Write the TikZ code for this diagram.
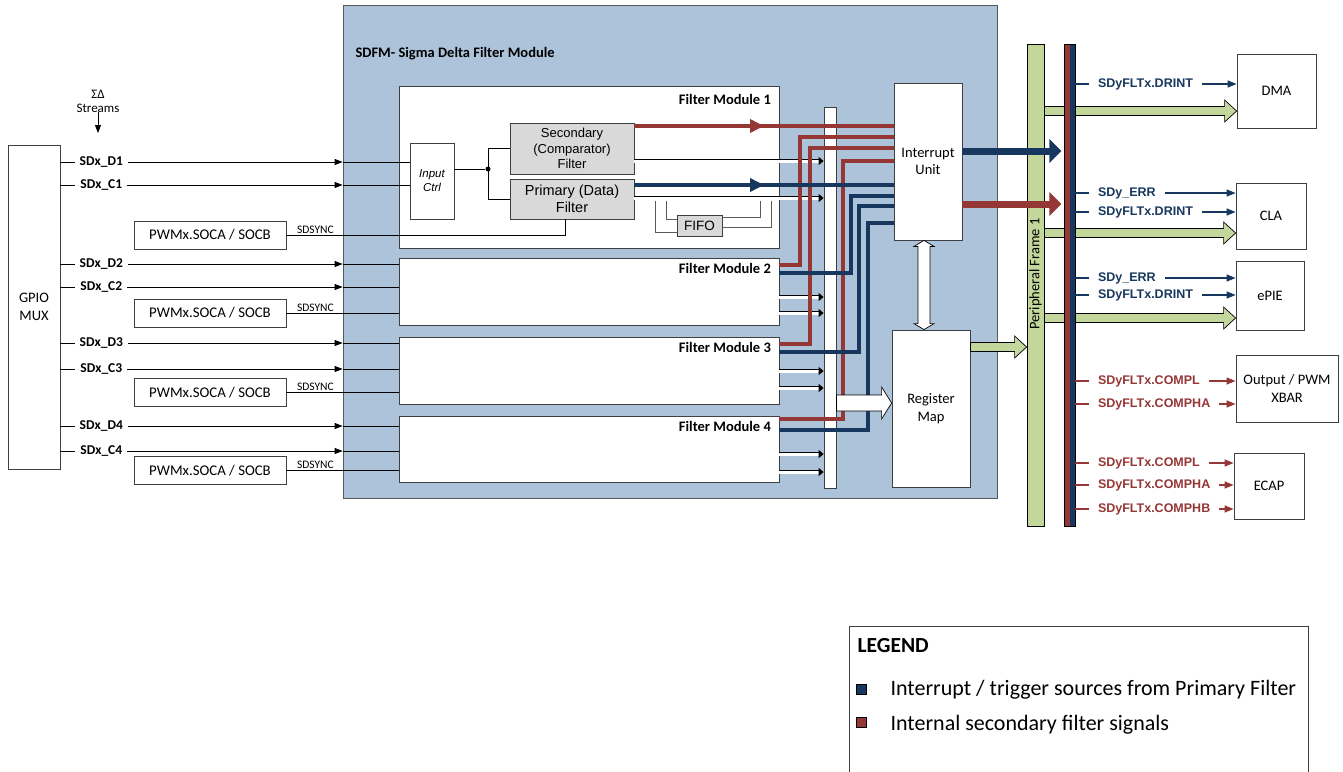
\documentclass[tikz,border=0pt]{standalone}
\usepackage{fontspec}
\setmainfont{Carlito}
\newfontfamily\arialf{Liberation Sans}
\usetikzlibrary{arrows.meta,calc,decorations.markings}
\definecolor{sdbg}{HTML}{ADC3DA}
\definecolor{sdgreen}{HTML}{C3D69B}
\definecolor{sdred}{HTML}{953735}
\definecolor{sdblue}{HTML}{17375E}
\definecolor{sdgray}{HTML}{D9D9D9}
\definecolor{sdedge}{HTML}{3F3F3F}
\definecolor{sdwire}{HTML}{595959}
\newcommand\fatarrow[6][]{%
  \draw[#1] let \p1=(#2), \p2=(#3) in
    (\x1,\y1+#4) -- (\x2-#6,\y2+#4) -- (\x2-#6,\y2+#5) -- (\x2,\y2)
    -- (\x2-#6,\y2-#5) -- (\x2-#6,\y2-#4) -- (\x1,\y1-#4) -- cycle;}

\begin{document}
\begin{tikzpicture}[x=1pt,y=-1pt,font=\fontsize{14.5}{17.5}\selectfont,
  blk/.style={draw=sdedge,fill=white,align=center,inner sep=0pt,line width=0.8pt},
  gblk/.style={blk,fill=sdgray,font=\arialf\fontsize{13}{15.5}\selectfont},
  fmod/.style={blk,minimum width=380pt},
  pwmbox/.style={blk,minimum width=152pt,minimum height=28pt,font=\fontsize{14.8}{16}\selectfont},
  fmlbl/.style={anchor=base east,font=\bfseries\fontsize{14.5}{17}\selectfont},
  inlbl/.style={fill=white,inner xsep=5pt,inner ysep=1pt,font=\bfseries\fontsize{13.5}{16}\selectfont},
  syncl/.style={above,inner sep=1.5pt,font=\fontsize{11.5}{13}\selectfont},
  outlbl/.style={pos=0,anchor=west,xshift=13pt,fill=white,inner xsep=9pt,inner ysep=1pt,font=\arialf\bfseries\fontsize{12.5}{14}\selectfont},
  sig/.style={draw=black,line width=0.9pt},
  sigarr/.style={sig,-{Triangle[length=8pt,width=6pt]}},
  wire/.style={draw=sdwire,line width=0.8pt},
  wharr/.style={draw=black,line width=0.9pt,double=white,double distance=3pt,-{Triangle[length=5pt,width=8pt]}},
  redw/.style={color=sdred,line width=3.5pt},
  bluew/.style={color=sdblue,line width=3.5pt},
  midarr/.style={postaction={decorate,decoration={markings,mark=at position 0.5 with {\arrow{Triangle[length=14pt,width=13pt]}}}}},
  bigarr/.style={line width=7pt,-{Triangle[length=12pt,width=23pt]}},
  bsig/.style={color=sdblue,line width=1.2pt,-{Triangle[length=9pt,width=7pt]}},
  rsig/.style={color=sdred,line width=1.2pt,-{Triangle[length=9pt,width=7pt]}},
  hollow/.style={draw=black,line width=0.7pt}]
\path[use as bounding box,clip] (0,0) rectangle (1343,771);
% SDFM block
\node[draw=sdwire,fill=sdbg,line width=0.8pt,minimum width=654pt,minimum height=493pt] (sdfm) at (670,251.5) {};
\node[anchor=base west,font=\bfseries\fontsize{14.5}{17}\selectfont] (sdtitle) at (352,57) {SDFM- Sigma Delta Filter Module};
\node[fmod,minimum height=162pt] (fm1) at (589,167) {};
\node[fmod,minimum height=67pt] (fm2) at (589,291.5) {};
\node[fmod,minimum height=67pt] (fm3) at (589,370.5) {};
\node[fmod,minimum height=66pt] (fm4) at (589,449) {};
\foreach \i/\dy in {1/19,2/16,3/16,4/16}
  \node[fmlbl] (fmt\i) at ($(fm\i.north east)+(-5,\dy)$) {Filter Module \i};
% filter module 1 internals
\node[blk,minimum width=44pt,minimum height=76pt,font=\arialf\itshape\fontsize{11.5}{14}\selectfont] (inctrl) at (432,181) {Input\\Ctrl};
\node[gblk,minimum width=124pt,minimum height=51pt] (sec) at (572,148.5) {Secondary\\(Comparator)\\Filter};
\node[gblk,minimum width=124pt,minimum height=40pt,font=\arialf\fontsize{14.5}{17.5}\selectfont] (pri) at (572,199) {Primary (Data)\\Filter};
\node[gblk,minimum width=45pt,minimum height=21pt,font=\arialf\fontsize{13.5}{15}\selectfont] (fifo) at (699.5,225.5) {FIFO};
\node[circle,fill,inner sep=0pt,minimum size=5pt] (split) at (488,169) {};
\draw[sig] (inctrl.east |- split) -- (split);
\draw[sig] (split.center) |- (sec.west);
\draw[sig] (split.center) |- (pri.west);
\draw[wire] (655,201) |- (fifo.west |- 0,232);
\draw[wire] (666,201) |- (fifo.west |- 0,219);
\draw[wire] (fifo.east |- 0,217) -| (760,201);
\draw[wire] (fifo.east |- 0,227) -| (771,201);
% collector bar
\node[blk,minimum width=12pt,minimum height=381pt] (bar) at (830,297.5) {};
\draw[wharr] (sec.east |- 0,161) -- (bar.west |- 0,161);
\draw[wharr] (pri.east |- 0,198) -- (bar.west |- 0,198);
\foreach \m/\ya/\yb in {fm2/297/313,fm3/371/388,fm4/454/472}{
  \draw[wharr] (\m.east |- 0,\ya) -- (bar.west |- 0,\ya);
  \draw[wharr] (\m.east |- 0,\yb) -- (bar.west |- 0,\yb);}
\node[blk,minimum width=68pt,minimum height=157pt] (iu) at (928,161.5) {Interrupt\\Unit};
\node[blk,minimum width=78pt,minimum height=157pt] (rmap) at (931,408.5) {Register\\Map};
% secondary filter signals
\draw[redw,midarr] (sec.east |- 0,126) -- (iu.west |- 0,126);
\draw[redw] (fm2.east |- 0,265) -| (800,137) -- (iu.west |- 0,137);
\draw[redw] (fm3.east |- 0,344) -| (810,148) -- (iu.west |- 0,148);
\draw[redw] (fm4.east |- 0,419) -| (843,161) -- (iu.west |- 0,161);
% primary filter signals
\draw[bluew,midarr] (pri.east |- 0,185) -- (iu.west |- 0,185);
\draw[bluew] (fm2.east |- 0,273) -| (851,196) -- (iu.west |- 0,196);
\draw[bluew] (fm3.east |- 0,352) -| (859,206) -- (iu.west |- 0,206);
\draw[bluew] (fm4.east |- 0,430) -| (868,223) -- (iu.west |- 0,223);
\fatarrow[hollow,fill=white]{bar.east |- 0,403}{rmap.west |- 0,403}{8pt}{16pt}{10pt}
\draw[hollow,fill=white] let \p1=($(iu.south)+(-4,0)$), \p2=(rmap.north) in
  (\x1,\y1) -- (\x1+10pt,\y1-6pt) -- (\x1+6pt,\y1-6pt) -- (\x1+6pt,\y2+6pt) -- (\x1+10pt,\y2+6pt)
  -- (\x1,\y2) -- (\x1-10pt,\y2+6pt) -- (\x1-6pt,\y2+6pt) -- (\x1-6pt,\y1-6pt) -- (\x1-10pt,\y1-6pt) -- cycle;
% peripheral frame
\node[draw=black,fill=sdgreen,line width=0.8pt,minimum width=17pt,minimum height=482pt,inner sep=0pt] (pframe) at (1035.5,285) {};
\node[rotate=90] (pftxt) at (1035.5,274) {Peripheral Frame 1};
\draw[bigarr,sdblue] (iu.east |- 0,151) -- ($(pframe.east |- 0,151)+(17,0)$);
\draw[bigarr,sdred] (iu.east |- 0,204) -- ($(pframe.east |- 0,204)+(17,0)$);
\fatarrow[hollow,fill=sdgreen]{rmap.east |- 0,347}{pframe.west |- 0,347}{4.5pt}{11pt}{12pt}
% destinations
\node[blk,minimum width=79pt,minimum height=74pt] (dma) at (1276.5,91) {DMA};
\node[blk,minimum width=70pt,minimum height=66pt] (cla) at (1271,216) {CLA};
\node[blk,minimum width=68pt,minimum height=69pt] (epie) at (1270,295.5) {ePIE};
\node[blk,minimum width=102pt,minimum height=67pt] (xbar) at (1287,388.5) {Output / PWM\\XBAR};
\node[blk,minimum width=70pt,minimum height=66pt] (ecap) at (1269,486) {ECAP};
\foreach \yy/\tgt in {111/dma,233/cla,318/epie}
  \fatarrow[hollow,fill=sdgreen]{pframe.east |- 0,\yy}{\tgt.west |- 0,\yy}{4.5pt}{11pt}{12pt}
\node[draw=black,line width=0.8pt,fill=sdblue,minimum width=11pt,minimum height=482pt,inner sep=0pt,
  path picture={\fill[sdred] (path picture bounding box.south west) rectangle (path picture bounding box.north);}] (bus) at (1069.5,285) {};
\foreach \yy/\tgt/\txt in {84/dma/SDyFLTx.DRINT,193/cla/SDy\_ERR,212/cla/SDyFLTx.DRINT,278/epie/SDy\_ERR,295/epie/SDyFLTx.DRINT}
  \draw[bsig] (bus.east |- 0,\yy) -- (\tgt.west |- 0,\yy) node[outlbl] {\txt};
\foreach \yy/\tgt/\txt in {381/xbar/SDyFLTx.COMPL,404/xbar/SDyFLTx.COMPHA,463/ecap/SDyFLTx.COMPL,485/ecap/SDyFLTx.COMPHA,509/ecap/SDyFLTx.COMPHB}
  \draw[rsig] (bus.east |- 0,\yy) -- (\tgt.west |- 0,\yy) node[outlbl] {\txt};
% inputs
\node[blk,minimum width=52pt,minimum height=324pt] (gpio) at (34,307) {GPIO\\MUX};
\node[align=center,inner sep=0pt,font=\fontsize{13}{14}\selectfont] (streams) at (98,101) {ΣΔ\\Streams};
\coordinate (sdin) at (98,133);
\draw[sigarr] (streams.south) -- (sdin);
\foreach \txt/\yy/\tgt in {SDx\_D1/162/inctrl,SDx\_C1/185/inctrl,SDx\_D2/264/fm2,SDx\_C2/287/fm2,SDx\_D3/343/fm3,SDx\_C3/369/fm3,SDx\_D4/426/fm4,SDx\_C4/451/fm4}{
  \draw[sigarr] (gpio.east |- 0,\yy) -- (sdfm.west |- 0,\yy) node[inlbl,pos=0.145] {\txt};
  \draw[sig] (sdfm.west |- 0,\yy) -- (\tgt.west |- 0,\yy);}
\foreach \i/\yy in {1/235,2/313,3/392.5,4/470.5}{
  \node[pwmbox] (pwm\i) at (210,\yy) {PWMx.SOCA / SOCB};
  \node[syncl] (sync\i) at ($(pwm\i.east)+(29,0)$) {SDSYNC};}
\draw[wire,draw=black] (pwm1.east) -| ($(pri.south)+(-7,0)$);
\foreach \i in {2,3,4}
  \draw[wire,draw=black] (pwm\i.east) -- (fm\i.west |- pwm\i.east);
% legend
\node[draw=sdedge,line width=0.8pt,minimum width=459pt,minimum height=180pt,anchor=north west] (legend) at (849,626) {};
\node[anchor=base west,font=\bfseries\fontsize{21.5}{24}\selectfont] (legt) at (854,652) {LEGEND};
\node[draw=black,fill=sdblue,minimum size=10pt,inner sep=0pt] (kblue) at (861,689.5) {};
\node[draw=black,fill=sdred,minimum size=10pt,inner sep=0pt] (kred) at (861,722) {};
\node[anchor=base west,font=\fontsize{22}{24}\selectfont] (kbluet) at (887,695) {Interrupt / trigger sources from Primary Filter};
\node[anchor=base west,font=\fontsize{22}{24}\selectfont] (kredt) at (887,730) {Internal secondary filter signals};
\end{tikzpicture}
\end{document}
